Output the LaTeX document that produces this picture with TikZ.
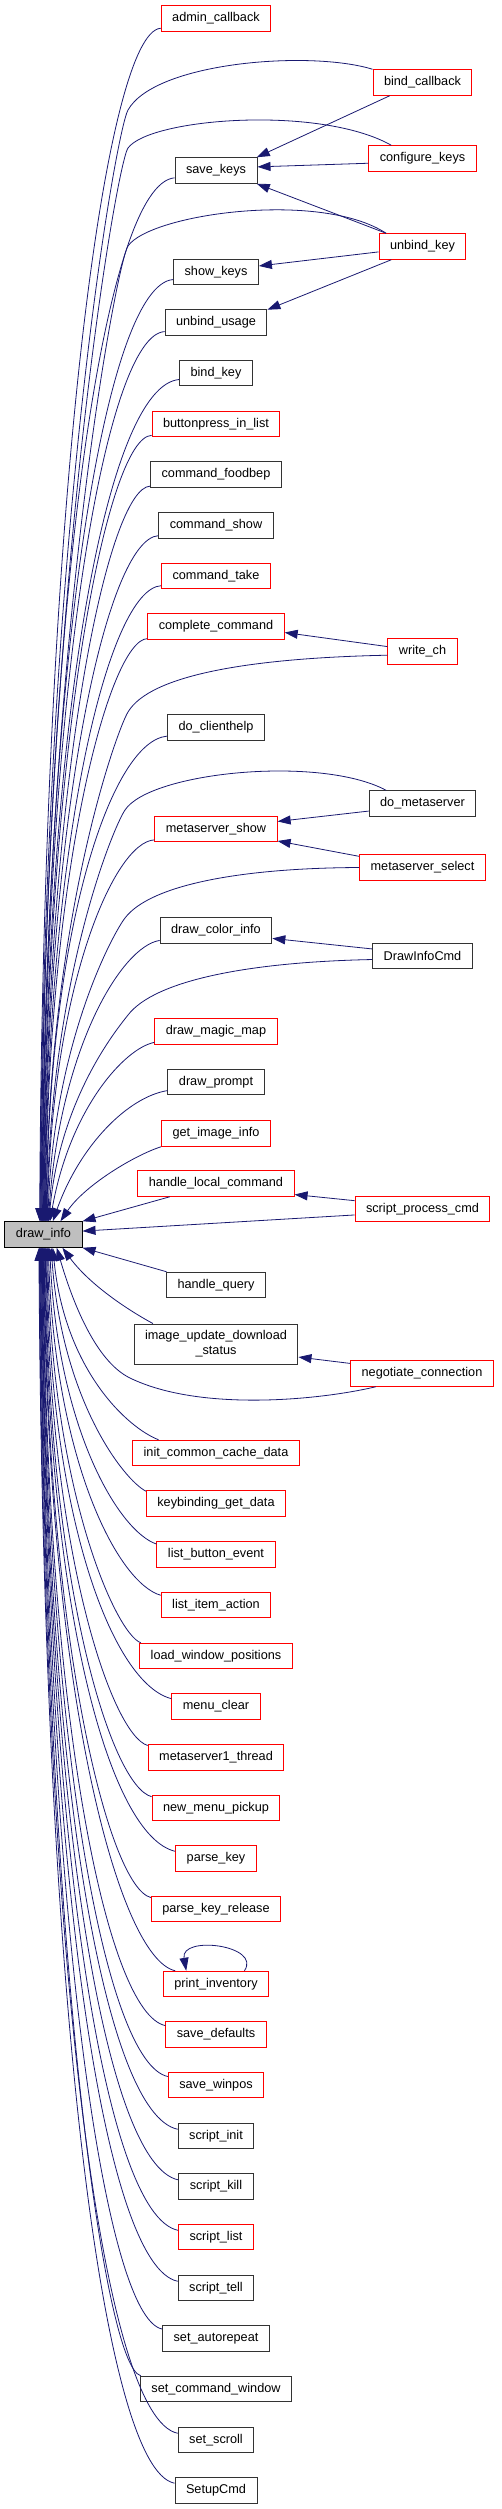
\documentclass[tikz,border=0pt]{standalone}
\usepackage{fontspec}
\setmainfont{Liberation Sans}
\usepackage{xcolor}
\usetikzlibrary{arrows.meta}
\newcommand{\unitpx}{1pt}
\definecolor{edgeblue}{RGB}{25,25,112}
\definecolor{focusgray}{RGB}{191,191,191}

\begin{document}
\begin{tikzpicture}[x=\unitpx,y=-\unitpx]
\useasboundingbox (0,0) rectangle (501,2509);
\tikzstyle{every node}=[draw=black!80,
			rectangle,
			fill=white,
			line width=1*\unitpx,
			minimum height=25.5*\unitpx,
			inner xsep=11*\unitpx,
			inner ysep=0pt,
			font=\fontsize{12.7}{15}\selectfont
			]
\tikzstyle{calls}=[edgeblue, line width=0.8*\unitpx, -{Triangle[length=13pt,width=9pt]}]


\node[draw=red] (admin) at (216,18.5) {admin\_callback};

\node[draw=red] (bindcb) at (422.5,82.5) {bind\_callback};

\node[draw=red] (configkeys) at (422.5,158.5) {configure\_keys};

\node (savekeys) at (216,170.5) {save\_keys};

\node[draw=red] (unbindkey) at (422.5,246.5) {unbind\_key};

\node (showkeys) at (216,272) {show\_keys};

\node (unbindusage) at (216,322.5) {unbind\_usage};

\node (bindkey) at (216,373) {bind\_key};

\node[draw=red] (buttonpress) at (216,424) {buttonpress\_in\_list};

\node (foodbep) at (216,474.5) {command\_foodbep};

\node (cmdshow) at (216,525.5) {command\_show};

\node[draw=red] (cmdtake) at (216,576) {command\_take};

\node[draw=red] (complete) at (216,626.5) {complete\_command};

\node[draw=red] (writech) at (422.5,651.5) {write\_ch};

\node (clienthelp) at (216,727.5) {do\_clienthelp};

\node (dometa) at (422.5,803.5) {do\_metaserver};

\node[draw=red] (msshow) at (216,829) {metaserver\_show};

\node[draw=red] (msselect) at (422.5,867.5) {metaserver\_select};

\node (colorinfo) at (216,930.5) {draw\_color\_info};

\node (drawinfocmd) at (422.5,956) {DrawInfoCmd};

\node[draw=red] (magicmap) at (216,1031.5) {draw\_magic\_map};

\node (prompt) at (216,1082) {draw\_prompt};

\node[draw=red] (imageinfo) at (216,1133.5) {get\_image\_info};

\node[draw=red] (localcmd) at (216,1183.5) {handle\_local\_command};

\node[draw=red] (scriptproc) at (422.5,1209) {script\_process\_cmd};

\node[fill=focusgray, draw=black] (drawinfo) at (43.5,1234.5) {draw\_info};

\node (query) at (216,1285) {handle\_query};

\node[align=center, minimum height=40*\unitpx] (imgupdate) at (216,1344) {image\_update\_download\\\_status};

\node[draw=red] (negotiate) at (422,1373.5) {negotiate\_connection};

\node[draw=red] (initcache) at (216,1453) {init\_common\_cache\_data};

\node[draw=red] (kbdata) at (216,1503.5) {keybinding\_get\_data};

\node[draw=red] (listbutton) at (216,1554.5) {list\_button\_event};

\node[draw=red] (listitem) at (216,1605) {list\_item\_action};

\node[draw=red] (loadwin) at (216,1656) {load\_window\_positions};

\node[draw=red] (menuclear) at (216,1706.5) {menu\_clear};

\node[draw=red] (msthread) at (216,1757.5) {metaserver1\_thread};

\node[draw=red] (menupickup) at (216,1808) {new\_menu\_pickup};

\node[draw=red] (parsekey) at (216,1858.5) {parse\_key};

\node[draw=red] (parserelease) at (216,1909) {parse\_key\_release};

\node[draw=red] (printinv) at (216,1984) {print\_inventory};

\node[draw=red] (savedefaults) at (216,2034.5) {save\_defaults};

\node[draw=red] (savewinpos) at (216,2085) {save\_winpos};

\node (scriptinit) at (216,2136) {script\_init};

\node (scriptkill) at (216,2186.5) {script\_kill};

\node[draw=red] (scriptlist) at (216,2237) {script\_list};

\node (scripttell) at (216,2288) {script\_tell};

\node (autorepeat) at (216,2338.5) {set\_autorepeat};

\node (cmdwindow) at (216,2389) {set\_command\_window};

\node (setscroll) at (216,2440) {set\_scroll};

\node (setupcmd) at (216,2490.5) {SetupCmd};


\draw[calls] (bindcb.-158) -- (savekeys.18);

\draw[calls] (configkeys.185) -- (savekeys.5);

\draw[calls] (unbindkey.160) -- (savekeys.-18);

\draw[calls] (unbindkey.187) -- (showkeys.8);

\draw[calls] (unbindkey.-157) -- (unbindusage.14);

\draw[calls] (writech.172) -- (complete.-5);

\draw[calls] (dometa.-172) -- (msshow.7);

\draw[calls] (msselect.170) -- (msshow.-11);

\draw[calls] (drawinfocmd.172) -- (colorinfo.-8);

\draw[calls] (scriptproc.173) -- (localcmd.-8);

\draw[calls] (negotiate.172) -- (imgupdate.-9);

\draw[calls] (printinv.25) .. controls (262,1945) and (180,1935) .. (printinv.156);


\draw[calls] (bindcb.north west) .. controls (310,50) and (155,62) .. (128,110) .. controls (116,131) and (43,540) .. (drawinfo.104);

\draw[calls] (configkeys.157) .. controls (320,105) and (150,118) .. (128,148) .. controls (117,163) and (44,578) .. (drawinfo.102);

\draw[calls] (unbindkey.160) .. controls (320,190) and (150,214) .. (128,246) .. controls (117,262) and (45,636) .. (drawinfo.98);

\draw[calls] (writech.186) .. controls (250,658) and (150,675) .. (128,712) .. controls (117,730) and (49,916) .. (drawinfo.80);

\draw[calls] (dometa.160) .. controls (320,755) and (150,772) .. (125,810) .. controls (114,826) and (51,975) .. (drawinfo.76);

\draw[calls] (msselect.west) .. controls (240,868) and (150,885) .. (125,918) .. controls (114,932) and (54,1040) .. (drawinfo.72);

\draw[calls] (drawinfocmd.-176) .. controls (250,962) and (155,980) .. (128,1015) .. controls (117,1029) and (60,1098) .. (drawinfo.68);

\draw[calls] (scriptproc.-175) -- (drawinfo.5);

\draw[calls] (negotiate.-164) .. controls (320,1400) and (200,1412) .. (130,1378) .. controls (95,1361) and (72,1300) .. (drawinfo.-45);


\draw[calls] (admin.190) .. controls (105,32) and (43,500) .. (drawinfo.106);

\draw[calls] (savekeys.190) .. controls (105,184) and (44,591) .. (drawinfo.100);

\draw[calls] (showkeys.190) .. controls (106,285) and (45,652) .. (drawinfo.96);

\draw[calls] (unbindusage.190) .. controls (106,335) and (45,682) .. (drawinfo.94);

\draw[calls] (bindkey.190) .. controls (107,386) and (46,713) .. (drawinfo.92);

\draw[calls] (buttonpress.190) .. controls (107,437) and (46,743) .. (drawinfo.90);

\draw[calls] (foodbep.190) .. controls (108,488) and (47,774) .. (drawinfo.88);

\draw[calls] (cmdshow.190) .. controls (108,539) and (47,804) .. (drawinfo.86);

\draw[calls] (cmdtake.190) .. controls (109,589) and (48,834) .. (drawinfo.84);

\draw[calls] (complete.190) .. controls (110,640) and (48,865) .. (drawinfo.82);

\draw[calls] (clienthelp.190) .. controls (112,741) and (49,925) .. (drawinfo.78);

\draw[calls] (msshow.190) .. controls (114,842) and (52,986) .. (drawinfo.74);

\draw[calls] (colorinfo.190) .. controls (122,946) and (60,1047) .. (drawinfo.70);

\draw[calls] (magicmap.190) .. controls (125,1048) and (70,1108) .. (drawinfo.64);

\draw[calls] (prompt.190) .. controls (128,1097) and (80,1145) .. (drawinfo.55);

\draw[calls] (imageinfo.south west) .. controls (135,1155) and (85,1185) .. (drawinfo.38);

\draw[calls] (localcmd.-164) -- (drawinfo.north east);


\draw[calls] (query.165) -- (drawinfo.south east);

\draw[calls] (imgupdate.162) .. controls (128,1310) and (90,1285) .. (drawinfo.-35);

\draw[calls] (initcache.167) .. controls (128,1428) and (65,1371) .. (drawinfo.-55);

\draw[calls] (kbdata.170) .. controls (124,1480) and (62,1401) .. (drawinfo.-60);

\draw[calls] (listbutton.170) .. controls (120,1532) and (58,1432) .. (drawinfo.-65);

\draw[calls] (listitem.170) .. controls (118,1583) and (55,1462) .. (drawinfo.-70);

\draw[calls] (loadwin.170) .. controls (116,1634) and (52,1492) .. (drawinfo.-73);

\draw[calls] (menuclear.170) .. controls (114,1684) and (50,1523) .. (drawinfo.-76);

\draw[calls] (msthread.170) .. controls (112,1735) and (49,1553) .. (drawinfo.-79);

\draw[calls] (menupickup.170) .. controls (111,1786) and (48,1584) .. (drawinfo.-82);

\draw[calls] (parsekey.170) .. controls (110,1836) and (48,1614) .. (drawinfo.-85);

\draw[calls] (parserelease.170) .. controls (109,1887) and (47,1644) .. (drawinfo.-87);

\draw[calls] (printinv.162) .. controls (118,1958) and (47,1689) .. (drawinfo.-89);

\draw[calls] (savedefaults.170) .. controls (107,2013) and (46,1720) .. (drawinfo.-91);

\draw[calls] (savewinpos.170) .. controls (106,2063) and (46,1750) .. (drawinfo.-93);

\draw[calls] (scriptinit.170) .. controls (105,2114) and (45,1780) .. (drawinfo.-95);

\draw[calls] (scriptkill.170) .. controls (105,2165) and (45,1811) .. (drawinfo.-97);

\draw[calls] (scriptlist.170) .. controls (104,2215) and (45,1841) .. (drawinfo.-99);

\draw[calls] (scripttell.170) .. controls (104,2266) and (44,1872) .. (drawinfo.-101);

\draw[calls] (autorepeat.170) .. controls (103,2317) and (44,1902) .. (drawinfo.-103);

\draw[calls] (cmdwindow.170) .. controls (103,2367) and (44,1932) .. (drawinfo.-105);

\draw[calls] (setscroll.170) .. controls (102,2418) and (43,1963) .. (drawinfo.-107);

\draw[calls] (setupcmd.170) .. controls (102,2469) and (43,1993) .. (drawinfo.-109);

\end{tikzpicture}
\end{document}
